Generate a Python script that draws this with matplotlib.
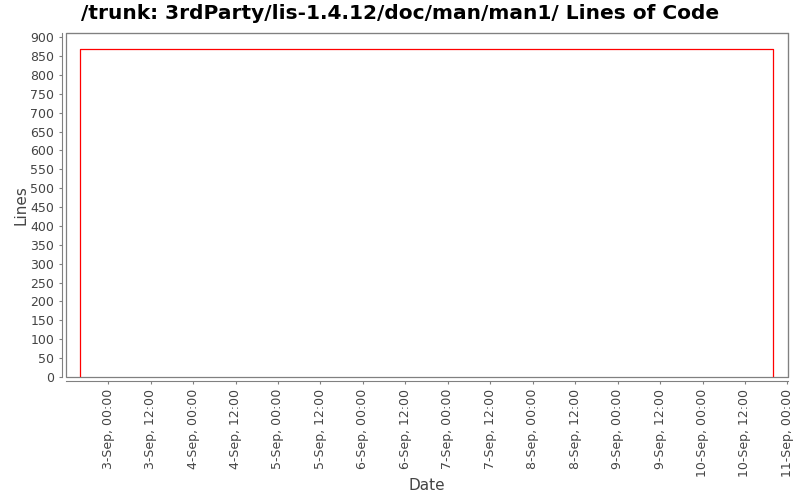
import matplotlib
matplotlib.use("Agg")
import matplotlib.pyplot as plt
import matplotlib.dates as mdates
from matplotlib.patches import Rectangle
from datetime import datetime

plt.rcParams['font.family'] = ['DejaVu Sans']

dates = [datetime(2007, 9, 2, 16, 5), datetime(2007, 9, 2, 16, 5),
         datetime(2007, 9, 10, 19, 55), datetime(2007, 9, 10, 19, 55)]
lines = [0, 868, 868, 0]
title = "/trunk: 3rdParty/lis-1.4.12/doc/man/man1/ Lines of Code"
yticks = list(range(0, 901, 50))

fig = plt.figure(figsize=(8, 5), dpi=100)
ax = fig.add_axes([66/800, 1-377/500, (788-66)/800, (377-33)/500])

ax.plot(dates, lines, color='#ff0000', linewidth=0.9)

ax.set_xlim(datetime(2007, 9, 2, 12, 5), datetime(2007, 9, 11, 0, 10))
ax.set_ylim(0, 911)
ax.set_yticks(yticks)

ax.xaxis.set_major_locator(mdates.HourLocator(byhour=[0, 12]))
def fmt(x, pos):
    d = mdates.num2date(x)
    return f"{d.day}-{d.strftime('%b')}, {d:%H:%M}"
ax.xaxis.set_major_formatter(plt.FuncFormatter(fmt))

grey = '#808080'
for s in ['left', 'bottom']:
    ax.spines[s].set_position(('outward', 3))
    ax.spines[s].set_color(grey)
for s in ['top', 'right']:
    ax.spines[s].set_color(grey)
ax.add_patch(Rectangle((0, 0), 1, 1, transform=ax.transAxes, fill=False,
                       edgecolor=grey, linewidth=0.9, clip_on=False))

ax.tick_params(axis='both', colors=grey, labelcolor='#444444', labelsize=9, length=2)
plt.setp(ax.get_xticklabels(), rotation=90)

ax.set_xlabel("Date", fontsize=11, color='#444444', labelpad=1)
ax.set_ylabel("Lines", fontsize=11, color='#444444', labelpad=1)
fig.text(0.5, 0.973, title, ha='center', va='center', fontsize=14.5, fontweight='bold')

fig.savefig("out.png", dpi=100)
